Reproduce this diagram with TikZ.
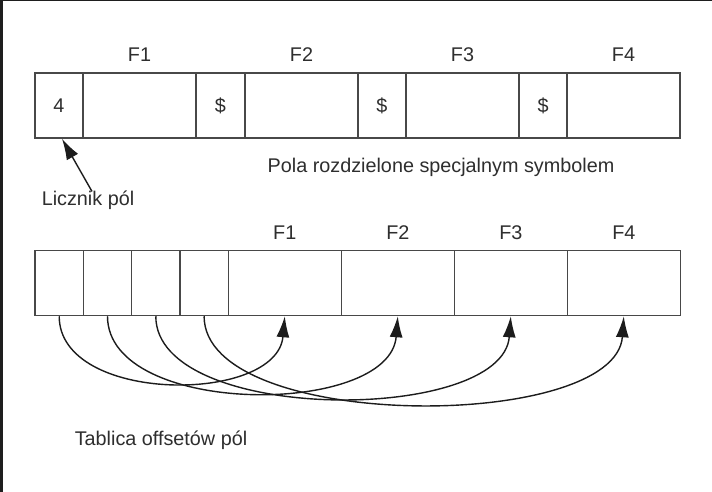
\documentclass[tikz,border=0pt]{standalone}
\usepackage{fontspec}
\usetikzlibrary{arrows.meta}
\newfontfamily\lucidfont{Liberation Sans}
\definecolor{framedark}{HTML}{1E1E1E}
\definecolor{boxline}{HTML}{484848}
\definecolor{inktext}{HTML}{2E2E2E}
\definecolor{inkarrow}{HTML}{1C1C1C}
\begin{document}
\begin{tikzpicture}[x=1pt,y=-1pt,
  cell/.style={draw=boxline, line width=1.5pt, minimum height=65pt, inner sep=0pt, text=inktext, font=\lucidfont\fontsize{19.8}{23}\selectfont},
  lbl/.style={text=inktext, inner sep=0pt, font=\lucidfont\fontsize{19.8}{23}\selectfont},
  ptr/.style={draw=inkarrow, line width=1.4pt, -{Latex[length=21pt,width=13pt]}}]
\useasboundingbox (0,0) rectangle (712,492);
\fill[white] (0,0) rectangle (712,492);
\fill[framedark] (0,0) rectangle (3,492);
\fill[framedark] (0,0) rectangle (712,1.5);
\node[cell, minimum width=48pt] (cnt) at (59.00,105.50) {4};
\node[cell, minimum width=113pt] (tf1) at (139.50,105.50) {};
\node[cell, minimum width=49pt] (sep1) at (220.50,105.50) {\$};
\node[cell, minimum width=113pt] (tf2) at (301.50,105.50) {};
\node[cell, minimum width=48pt] (sep2) at (382.00,105.50) {\$};
\node[cell, minimum width=113pt] (tf3) at (462.50,105.50) {};
\node[cell, minimum width=48pt] (sep3) at (543.00,105.50) {\$};
\node[cell, minimum width=113pt] (tf4) at (623.50,105.50) {};
\node[lbl] (tl1) at (139.50,55.00) {F1};
\node[lbl] (tl2) at (301.50,55.00) {F2};
\node[lbl] (tl3) at (462.50,55.00) {F3};
\node[lbl] (tl4) at (623.50,55.00) {F4};
\node[lbl] (pola) at (441.00,167.00) {Pola rozdzielone specjalnym symbolem};
\node[lbl] (lic) at (88.00,200.00) {Licznik pól};
\draw[ptr] ([xshift=4pt,yshift=-1pt]lic.north) -- ([xshift=3pt]cnt.south);
\node[cell, minimum width=48.3pt] (off1) at (59.20,283.00) {};
\node[cell, minimum width=48.3pt] (off2) at (107.50,283.00) {};
\node[cell, minimum width=48.3pt] (off3) at (155.80,283.00) {};
\node[cell, minimum width=48.3pt] (off4) at (204.10,283.00) {};
\node[cell, minimum width=113pt] (bf1) at (284.80,283.00) {};
\node[cell, minimum width=113pt] (bf2) at (397.80,283.00) {};
\node[cell, minimum width=113pt] (bf3) at (510.80,283.00) {};
\node[cell, minimum width=113pt] (bf4) at (623.80,283.00) {};
\node[lbl] (bl1) at (284.80,233.00) {F1};
\node[lbl] (bl2) at (397.80,233.00) {F2};
\node[lbl] (bl3) at (510.80,233.00) {F3};
\node[lbl] (bl4) at (623.80,233.00) {F4};
\node[lbl] (tab) at (161.00,440.00) {Tablica offsetów pól};
\draw[ptr] (off1.south) .. controls +(0,88) and +(-8,88) .. (bf1.south);
\draw[ptr] (off2.south) .. controls +(0,101) and +(-8,101) .. (bf2.south);
\draw[ptr] (off3.south) .. controls +(0,108) and +(-8,108) .. (bf3.south);
\draw[ptr] (off4.south) .. controls +(0,116) and +(-8,116) .. (bf4.south);
\end{tikzpicture}
\end{document}
